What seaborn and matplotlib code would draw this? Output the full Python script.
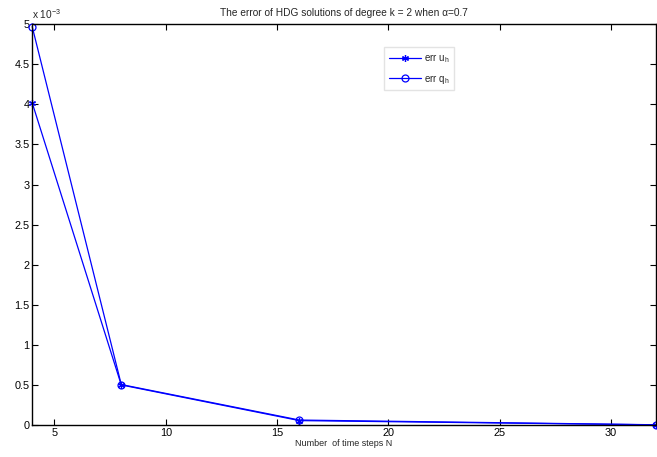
import matplotlib
matplotlib.use("Agg")
import matplotlib.pyplot as plt
import matplotlib.ticker as mticker
import seaborn as sns
import pandas as pd

N = [4, 8, 16, 32]
err_u = [4.02e-3, 0.50e-3, 0.055e-3, 0.002e-3]
err_q = [4.97e-3, 0.505e-3, 0.062e-3, 0.003e-3]
labels = ["err u$_\\mathrm{h}$", "err q$_\\mathrm{h}$"]
markers = [(6, 2, 0), "o"]

sns.set_style("white")
plt.rcParams['font.family'] = ['Liberation Sans', 'DejaVu Sans']
plt.rcParams['mathtext.fontset'] = 'custom'
plt.rcParams['mathtext.rm'] = 'Liberation Sans'

fig = plt.figure(figsize=(6.57, 4.57), dpi=100)
ax = fig.add_axes([0.049, 0.070, 0.949, 0.877])

for vals, lab, mk in zip([err_u, err_q], labels, markers):
    d = pd.DataFrame({"N": N, "err": vals})
    sns.lineplot(data=d, x="N", y="err", color="#0000ff", marker=mk,
                 markersize=5, linewidth=0.9, markerfacecolor="none",
                 markeredgecolor="#0000ff", markeredgewidth=0.9,
                 label=lab, ax=ax, clip_on=False)

ax.set_xlim(4, 32)
ax.set_ylim(0, 5e-3)
ax.set_xticks([5, 10, 15, 20, 25, 30])
ax.set_yticks([i * 0.5e-3 for i in range(11)])
ax.yaxis.set_major_formatter(mticker.FuncFormatter(lambda v, p: f"{v*1e3:g}"))
ax.tick_params(direction="in", length=4, width=0.8, labelsize=7.8, top=True, right=True,
               bottom=True, left=True, colors="black", pad=2)
for s in ax.spines.values():
    s.set_color("black")
    s.set_linewidth(1.0)
ax.set_xlabel("Number  of time steps N", fontsize=6.5, labelpad=1)
ax.set_ylabel("")
ax.set_title("The error of HDG solutions of degree k = 2 when \u03b1=0.7", fontsize=7.3, pad=6)
ax.text(0.0, 1.008, "x 10$^{-3}$", transform=ax.transAxes, fontsize=7.3, ha="left", va="bottom")

leg = ax.legend(loc="upper left", bbox_to_anchor=(0.556, 0.955), fontsize=7,
                frameon=True, fancybox=False, edgecolor="#dddddd", handlelength=3.3,
                handletextpad=0.3, borderpad=0.5, labelspacing=0.8)

fig.savefig("out.png", dpi=100)
